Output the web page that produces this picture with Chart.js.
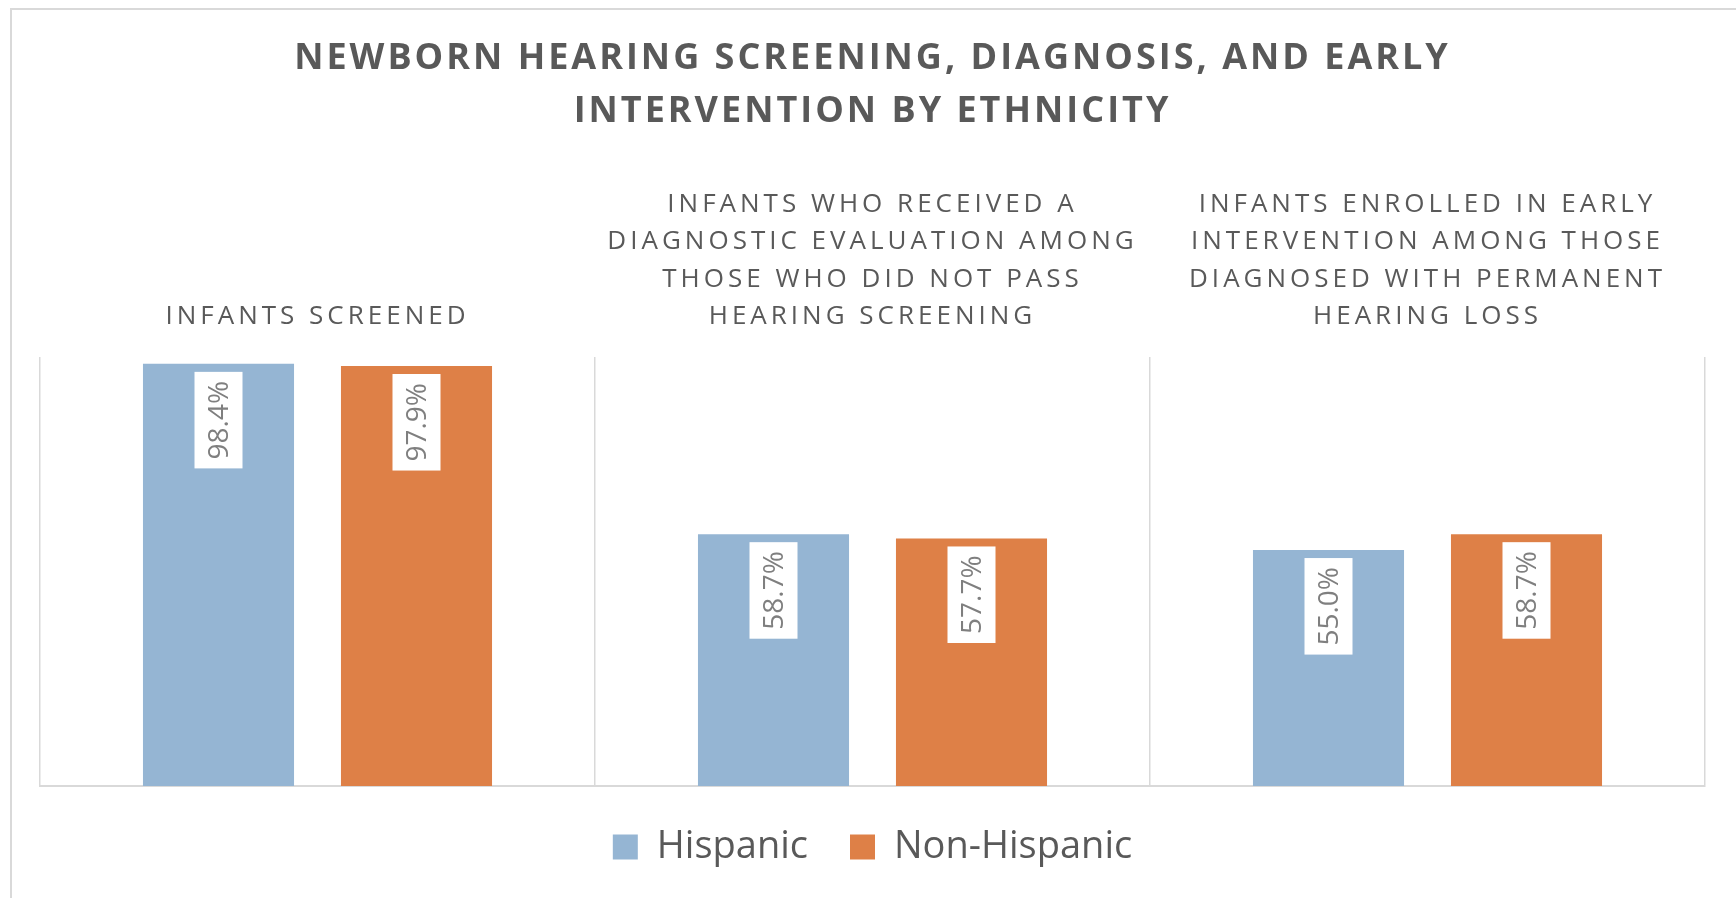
<!DOCTYPE html>
<html>
<head>
<meta charset="utf-8">
<title>Newborn Hearing Screening by Ethnicity</title>
<script src="https://cdn.jsdelivr.net/npm/chart.js@4.4.1/dist/chart.umd.min.js"></script>
<style>
  html, body { margin: 0; padding: 0; background: #fff; overflow: hidden; }
  #frame { position: absolute; left: 10px; top: 8px; width: 1800px; height: 1000px; border: 2px solid #d9d9d9; }
  #wrap { position: absolute; left: 0; top: 0; width: 1736px; height: 898px; }
</style>
</head>
<body>
<div id="frame"></div>
<div id="wrap"><canvas id="ethnicityChart" width="1736" height="898"></canvas></div>
<script>
const chartTitle = ['NEWBORN HEARING SCREENING, DIAGNOSIS, AND EARLY', 'INTERVENTION BY ETHNICITY'];
const categories = [
  ['INFANTS SCREENED'],
  ['INFANTS WHO RECEIVED A', 'DIAGNOSTIC EVALUATION AMONG', 'THOSE WHO DID NOT PASS', 'HEARING SCREENING'],
  ['INFANTS ENROLLED IN EARLY', 'INTERVENTION AMONG THOSE', 'DIAGNOSED WITH PERMANENT', 'HEARING LOSS']
];
const seriesNames = ['Hispanic', 'Non-Hispanic'];
const hispanic = [98.4, 58.7, 55.0];
const nonHispanic = [97.9, 57.7, 58.7];

const TEXT_GREY = '#595959';

// title + category headings, letter-spaced like the Excel original
const headingsPlugin = {
  id: 'headings',
  afterDraw(chart) {
    const { ctx, chartArea } = chart;
    const xScale = chart.scales.x;
    ctx.save();
    ctx.fillStyle = TEXT_GREY;
    ctx.textAlign = 'center';
    ctx.textBaseline = 'alphabetic';

    ctx.font = 'bold 36px "Open Sans"';
    ctx.letterSpacing = '3px';
    const midX = (chartArea.left + chartArea.right) / 2;
    chartTitle.forEach((line, i) => ctx.fillText(line, midX, 69 + i * 53));

    ctx.font = '26px "Open Sans"';
    ctx.letterSpacing = '4px';
    categories.forEach((lines, i) => {
      const x = xScale.getPixelForValue(i);
      const n = lines.length;
      lines.forEach((line, j) => {
        ctx.fillText(line, x, 324 - (n - 1 - j) * 37.3);
      });
    });
    ctx.restore();
  }
};

// rotated value labels in white boxes near the bar tops
const valueLabelsPlugin = {
  id: 'valueLabels',
  afterDatasetsDraw(chart) {
    const { ctx } = chart;
    const fs = 28;
    ctx.save();
    ctx.font = fs + 'px "Open Sans"';
    chart.data.datasets.forEach((ds, di) => {
      chart.getDatasetMeta(di).data.forEach((bar, i) => {
        const text = ds.data[i].toFixed(1) + '%';
        const tw = ctx.measureText(text).width;
        const boxW = 48;
        const boxH = tw + 18;
        const top = bar.y + 8;
        ctx.fillStyle = '#ffffff';
        ctx.fillRect(bar.x - boxW / 2, top, boxW, boxH);
        ctx.save();
        ctx.translate(bar.x, top + boxH / 2);
        ctx.rotate(-Math.PI / 2);
        ctx.fillStyle = '#7f7f7f';
        ctx.textAlign = 'center';
        ctx.textBaseline = 'alphabetic';
        ctx.fillText(text, 0, 0.357 * fs);
        ctx.restore();
      });
    });
    ctx.restore();
  }
};

const ctx = document.getElementById('ethnicityChart');
new Chart(ctx, {
  type: 'bar',
  data: {
    labels: categories.map(c => c.join(' ')),
    datasets: [
      {
        label: seriesNames[0],
        data: hispanic,
        backgroundColor: '#95b5d3',
        borderWidth: 0,
        categoryPercentage: 0.7135,
        barPercentage: 0.763
      },
      {
        label: seriesNames[1],
        data: nonHispanic,
        backgroundColor: '#de8047',
        borderWidth: 0,
        categoryPercentage: 0.7135,
        barPercentage: 0.763
      }
    ]
  },
  options: {
    responsive: false,
    animation: false,
    layout: { padding: { top: 357, left: 40, right: 31, bottom: 22 } },
    plugins: {
      title: { display: false },
      tooltip: { enabled: false },
      legend: {
        position: 'bottom',
        labels: {
          boxWidth: 25,
          boxHeight: 25,
          padding: 42,
          color: TEXT_GREY,
          font: { size: 38, family: '"Open Sans"' }
        }
      }
    },
    scales: {
      x: {
        grid: { color: '#d9d9d9', lineWidth: 1.5, drawTicks: false, offset: true },
        border: { color: '#d9d9d9', width: 2 },
        ticks: { display: false }
      },
      y: { display: false, min: 0, max: 100 }
    }
  },
  plugins: [headingsPlugin, valueLabelsPlugin]
});
</script>
</body>
</html>
